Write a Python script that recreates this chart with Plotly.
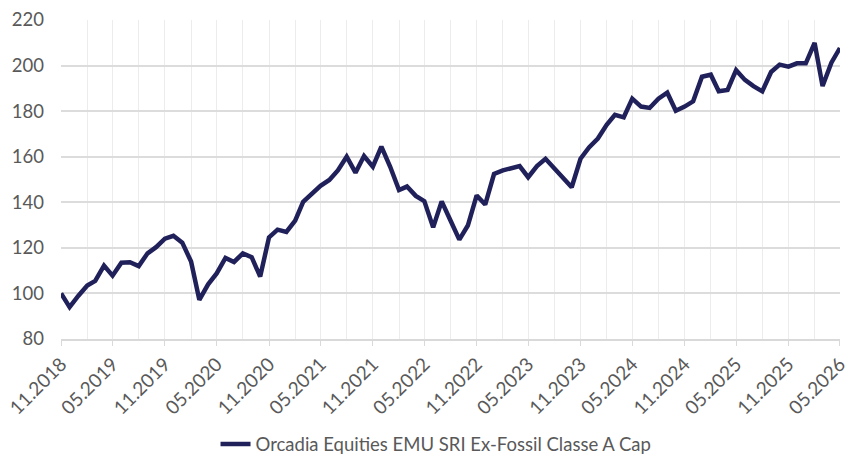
import plotly.graph_objects as go
import pandas as pd

series_name = "Orcadia Equities EMU SRI Ex-Fossil Classe A Cap"

months = [d.strftime("%Y-%m-%d") for d in pd.date_range("2018-11-01", "2026-05-01", freq="MS")]

values = [
    100.0, 94.0, 99.0, 103.5, 105.5, 112.2, 107.8, 113.5, 113.7, 112.0,
    117.6, 120.3, 124.0, 125.3, 122.3, 114.0, 97.2, 104.0, 108.8, 115.6,
    113.8, 117.6, 115.9, 107.4, 124.6, 128.0, 127.0, 132.0, 140.2, 144.0,
    147.2, 149.8, 154.0, 160.0, 153.0, 160.3, 155.6, 164.4, 155.6, 145.4,
    146.9, 142.8, 140.5, 129.0, 140.4, 132.0, 123.6, 129.8, 143.0, 139.0,
    152.4, 154.0, 154.8, 155.9, 151.0, 155.9, 159.1, 154.8, 150.4, 146.6,
    159.1, 164.1, 168.0, 174.0, 178.4, 177.3, 185.5, 182.0, 181.4, 185.5,
    188.1, 180.2, 182.0, 184.3, 195.1, 196.0, 188.7, 189.3, 198.0, 193.7,
    191.0, 188.7, 197.2, 200.4, 199.5, 201.0, 201.0, 210.0, 191.0, 201.3,
    207.7,
]

tick_dates = [
    "2018-11-01", "2019-05-01", "2019-11-01", "2020-05-01", "2020-11-01",
    "2021-05-01", "2021-11-01", "2022-05-01", "2022-11-01", "2023-05-01",
    "2023-11-01", "2024-05-01", "2024-11-01", "2025-05-01", "2025-11-01",
    "2026-05-01",
]
tick_labels = [
    "11.2018", "05.2019", "11.2019", "05.2020", "11.2020", "05.2021",
    "11.2021", "05.2022", "11.2022", "05.2023", "11.2023", "05.2024",
    "11.2024", "05.2025", "11.2025", "05.2026",
]
y_ticks = [80, 100, 120, 140, 160, 180, 200, 220]

font_family = "Lato, 'Open Sans', sans-serif"
text_color = "#595959"

fig = go.Figure()
fig.add_trace(go.Scatter(
    x=months, y=values, mode="lines", name=series_name,
    line=dict(color="#20205a", width=4.5),
    cliponaxis=False,
))

fig.update_layout(
    width=845, height=455,
    margin=dict(l=61, r=5, t=20, b=116, autoexpand=False),
    paper_bgcolor="white", plot_bgcolor="white",
    font=dict(family=font_family, color=text_color, size=18),
    showlegend=True,
    legend=dict(
        orientation="h", xref="container", yref="container",
        x=0.516, xanchor="center", y=0.023, yanchor="middle",
        font=dict(size=18.5, color=text_color),
    ),
    xaxis=dict(
        type="date",
        range=["2018-10-31 18:00", "2026-05-01 06:00"],
        tickvals=tick_dates, ticktext=tick_labels,
        tickangle=-45,
        ticklabeloverflow="allow",
        showgrid=True, gridcolor="#ececec", gridwidth=1,
        showline=True, linecolor="#d9d9d9", linewidth=1.5,
        ticks="outside", ticklen=5, tickcolor="#d9d9d9",
        tickfont=dict(size=19, color=text_color),
        minor=dict(dtick="M3", tick0="2018-11-01", showgrid=True,
                   gridcolor="#ececec", gridwidth=1),
        zeroline=False,
        automargin=False,
    ),
    yaxis=dict(
        range=[80, 220], tickvals=y_ticks,
        showgrid=True, gridcolor="#dcdcdc", gridwidth=1.5,
        showline=False, zeroline=False,
        tickfont=dict(size=18.5, color=text_color),
        ticklabelstandoff=16,
        automargin=False,
    ),
)

fig.write_html(
    "out.html",
    config={"displayModeBar": False},
    post_script="document.body.style.margin='0';document.body.style.overflow='hidden';",
)
